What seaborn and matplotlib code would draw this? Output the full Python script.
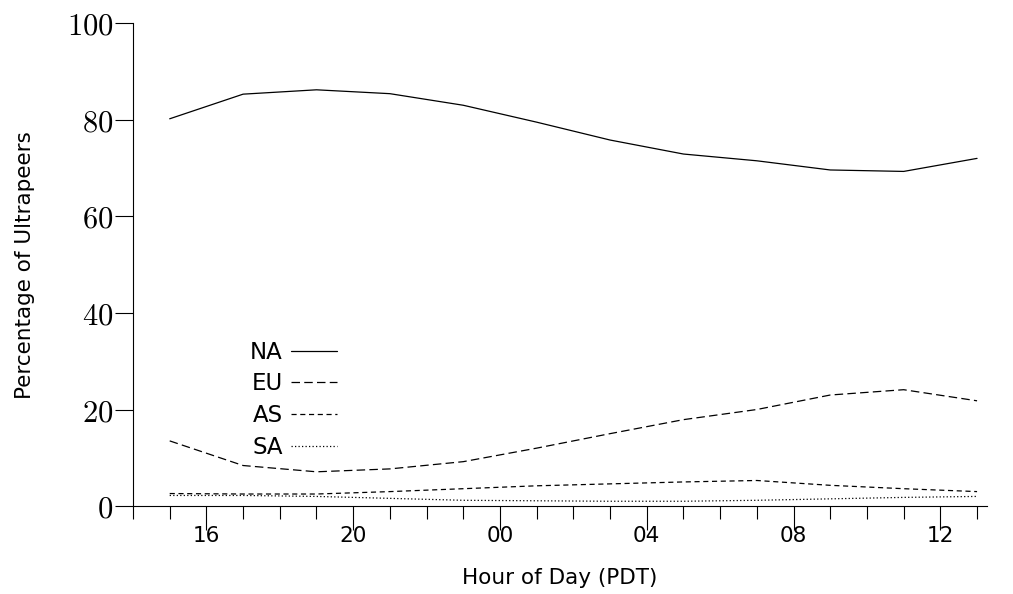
import numpy as np
import pandas as pd
import matplotlib
matplotlib.use("Agg")
import matplotlib.pyplot as plt
import seaborn as sns

# Hour of day (PDT), every two hours from 15:00 to 13:00 the next day
hours = [15, 17, 19, 21, 23, 25, 27, 29, 31, 33, 35, 37]

# Share of ultrapeers per continent (%)
na = [80.2, 85.3, 86.2, 85.4, 83.0, 79.5, 75.8, 72.9, 71.5, 69.6, 69.3, 72.0]
eu = [13.5, 8.4, 7.1, 7.7, 9.2, 12.0, 15.0, 17.9, 20.0, 23.0, 24.1, 21.8]
as_ = [2.6, 2.5, 2.5, 3.0, 3.6, 4.2, 4.6, 5.0, 5.3, 4.3, 3.6, 3.0]
sa = [2.2, 2.2, 2.0, 1.6, 1.2, 1.1, 1.0, 1.0, 1.2, 1.5, 1.8, 2.0]

regions = ["NA", "EU", "AS", "SA"]
series = {"NA": na, "EU": eu, "AS": as_, "SA": sa}

major_ticks = [16, 20, 24, 28, 32, 36]
major_labels = ["16", "20", "00", "04", "08", "12"]
y_ticks = [0, 20, 40, 60, 80, 100]

df = pd.DataFrame(
    [(h, v, r) for r in regions for h, v in zip(hours, series[r])],
    columns=["hour", "pct", "region"],
)

sns.set_style("ticks")
plt.rcParams["font.family"] = ["DejaVu Sans"]
plt.rcParams["mathtext.fontset"] = "cm"
for key in ["text.color", "axes.labelcolor", "xtick.color", "ytick.color", "axes.edgecolor"]:
    plt.rcParams[key] = "black"

fig = plt.figure(figsize=(10.13, 5.94), dpi=100)
ax = fig.add_axes([0.1313, 0.148, 0.843, 0.813])

lw = 0.9
dash_map = {"NA": "", "EU": (6.8, 3.4), "AS": (4.1, 2.9), "SA": (1.0, 1.8)}
sns.lineplot(
    data=df, x="hour", y="pct", hue="region", style="region",
    hue_order=regions, style_order=regions,
    palette=["black"] * 4, dashes=dash_map, linewidth=lw,
    ax=ax, legend=True,
)

ax.set_xlim(14, 37.27)
ax.set_ylim(0, 100)

ax.set_xticks(major_ticks)
ax.set_xticklabels(major_labels, fontsize=15.5)
ax.set_xticks(list(range(14, 38)), minor=True)
ax.set_yticks(y_ticks)
ax.set_yticklabels([rf"${t}$" for t in y_ticks], fontsize=22)

ax.tick_params(axis="x", which="major", length=17, width=0.8, direction="out", pad=-2.5)
ax.tick_params(axis="x", which="minor", length=9, width=0.8, direction="out")
ax.tick_params(axis="y", which="major", length=13, width=0.8, direction="out", pad=1)

for side in ["top", "right"]:
    ax.spines[side].set_visible(False)
for side in ["left", "bottom"]:
    ax.spines[side].set_linewidth(0.8)

ax.set_xlabel("Hour of Day (PDT)", fontsize=15.5, labelpad=16)
ax.set_ylabel("Percentage of Ultrapeers", fontsize=15.5, labelpad=23)

handles, labels = ax.get_legend_handles_labels()
leg = ax.legend(
    handles, labels, markerfirst=False, frameon=False, fontsize=16.5,
    loc="upper left", bbox_to_anchor=(0.113, 0.385), handlelength=2.0,
    handletextpad=0.35, labelspacing=0.38,
)
for t in leg.get_texts():
    t.set_ha("right")

fig.savefig("out.png", dpi=100)
